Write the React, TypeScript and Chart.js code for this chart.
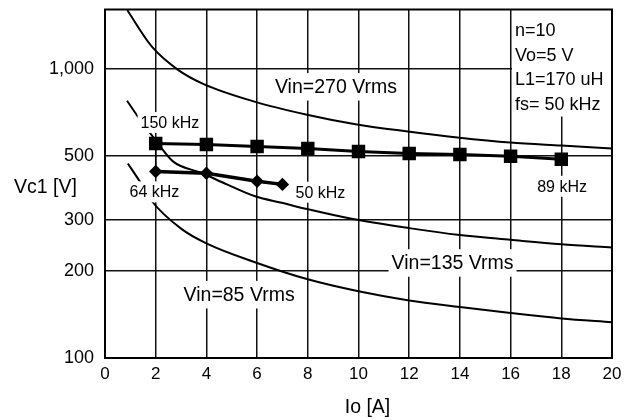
import React, { useEffect, useRef } from "react";
import { Chart, registerables } from "chart.js";

Chart.register(...registerables);

const FONT = "'Liberation Sans', Arial, Helvetica, sans-serif";

// Axis ticks
const xTickValues = [0, 2, 4, 6, 8, 10, 12, 14, 16, 18, 20];
const yTickValues = [100, 200, 300, 500, 1000];
const yTickLabels = ["100", "200", "300", "500", "1,000"];

// Vc1 limit curves for each input voltage
const vin270Io = [0.88, 1.85, 2.88, 3.87, 5.9, 7.97, 9.94, 11.95, 13.9, 15.98, 18, 20];
const vin270Vc = [1590, 1190, 990, 886, 769, 693, 641, 606, 578, 555, 542, 530];

const vin135Io = [0.87, 1.35, 2, 2.68, 3.83, 4.81, 5.92, 7.02, 7.97, 9.78, 12, 14, 16, 18, 20];
const vin135Vc = [774, 672, 565, 478, 435, 398, 362, 343, 327, 302, 281, 266, 256, 247, 241];

const vin85Io = [0.9, 1.35, 1.85, 3, 4, 6, 8, 10, 12, 14, 16, 18, 20];
const vin85Vc = [470, 410, 348, 280, 249, 213, 187, 170, 158, 150, 143, 137, 133];

// Measured Vc1 (squares: 150 kHz -> 89 kHz, diamonds: 64 kHz -> 50 kHz)
const squareIo = [2, 4, 6, 8, 10, 12, 14, 16, 18];
const squareVc = [551, 547, 538, 530, 517, 509, 505, 498, 486];

const diamondIo = [2, 4, 6, 7];
const diamondVc = [441, 435, 408, 398];

// In-plot labels, anchored in data units
const labelTexts = ["150 kHz", "64 kHz", "50 kHz", "89 kHz", "Vin=270 Vrms", "Vin=135 Vrms", "Vin=85 Vrms"];
const labelIo = [2.56, 1.95, 8.5, 18.03, 9.11, 13.71, 5.29];
const labelVc = [651, 375, 374, 392, 865, 213, 165.5];
const labelSizes = [16, 16, 16, 16, 19.5, 19.5, 19.5];

const infoLines = ["n=10", "Vo=5 V", "L1=170 uH", "fs= 50 kHz"];

const xTitle = "Io [A]";
const yTitle = "Vc1 [V]";

const toPoints = (xs: number[], ys: number[]) => xs.map((x, i) => ({ x, y: ys[i] }));

const overlayPlugin = {
  id: "overlay",
  afterDatasetsDraw(chart: any) {
    const { ctx, chartArea, scales } = chart;
    const xs = scales.x;
    const ys = scales.y;
    ctx.save();
    ctx.textBaseline = "middle";

    // labels with white backing
    labelTexts.forEach((t, i) => {
      const size = labelSizes[i];
      ctx.font = `${size}px ${FONT}`;
      const cx = xs.getPixelForValue(labelIo[i]);
      const cy = ys.getPixelForValue(labelVc[i]);
      const w = ctx.measureText(t).width;
      const padX = 3;
      const padY = size > 17 ? 4 : 2.5;
      ctx.fillStyle = "#fff";
      ctx.fillRect(cx - w / 2 - padX, cy - size / 2 - padY, w + padX * 2, size + padY * 2);
      ctx.fillStyle = "#000";
      ctx.textAlign = "center";
      ctx.fillText(t, cx, cy + 1);
    });

    // parameter box in the upper right corner
    const boxW = 100;
    const boxH = 107;
    const bx = chartArea.right - boxW;
    const by = chartArea.top;
    ctx.fillStyle = "#fff";
    ctx.fillRect(bx, by, boxW, boxH);
    ctx.fillStyle = "#000";
    ctx.textAlign = "left";
    ctx.font = `18px ${FONT}`;
    infoLines.forEach((line, i) => {
      ctx.fillText(line, bx + 3, by + 22 + i * 24.5);
    });

    // plot frame
    ctx.strokeStyle = "#000";
    ctx.lineWidth = 2;
    ctx.strokeRect(chartArea.left, chartArea.top, chartArea.right - chartArea.left, chartArea.bottom - chartArea.top);

    // axis titles
    ctx.font = `19.5px ${FONT}`;
    ctx.textAlign = "left";
    ctx.fillText(yTitle, 14, ys.getPixelForValue(388));
    ctx.textAlign = "center";
    ctx.fillText(xTitle, (chartArea.left + chartArea.right) / 2 + 9, chartArea.bottom + 50);

    ctx.restore();
  },
};

export default function App() {
  const canvasRef = useRef<HTMLCanvasElement | null>(null);

  useEffect(() => {
    const canvas = canvasRef.current;
    if (!canvas) return;
    const curve = (xs: number[], ys: number[]) => ({
      data: toPoints(xs, ys),
      showLine: true,
      borderColor: "#000",
      borderWidth: 2,
      pointRadius: 0,
      cubicInterpolationMode: "monotone" as const,
      fill: false,
    });

    const chart = new Chart(canvas, {
      type: "scatter",
      data: {
        datasets: [
          curve(vin270Io, vin270Vc),
          curve(vin135Io, vin135Vc),
          curve(vin85Io, vin85Vc),
          {
            // drop line joining the two series at 2 A
            data: toPoints([squareIo[0], diamondIo[0]], [squareVc[0], diamondVc[0]]),
            showLine: true,
            borderColor: "#000",
            borderWidth: 1.5,
            pointRadius: 0,
          },
          {
            data: toPoints(diamondIo, diamondVc),
            showLine: true,
            borderColor: "#000",
            borderWidth: 3.5,
            pointStyle: "rectRot",
            pointRadius: 6.7,
            pointBackgroundColor: "#000",
            pointBorderColor: "#000",
            pointBorderWidth: 0,
          },
          {
            data: toPoints(squareIo, squareVc),
            showLine: true,
            borderColor: "#000",
            borderWidth: 3,
            pointStyle: "rect",
            pointRadius: 9.5,
            pointBackgroundColor: "#000",
            pointBorderColor: "#000",
            pointBorderWidth: 0,
          },
        ],
      },
      options: {
        responsive: false,
        animation: false,
        events: [],
        layout: { padding: { top: 7, right: 28, left: 0, bottom: 0 } },
        plugins: { legend: { display: false }, tooltip: { enabled: false } },
        scales: {
          x: {
            type: "linear",
            min: 0,
            max: 20,
            afterFit: (s: any) => {
              s.height = 62;
              s.paddingLeft = 0;
              s.paddingRight = 0;
            },
            afterBuildTicks: (s: any) => {
              s.ticks = xTickValues.map((v) => ({ value: v }));
            },
            ticks: {
              color: "#000",
              font: { family: FONT, size: 17 },
              padding: 6,
              maxRotation: 0,
              autoSkip: false,
            },
            grid: { color: "#111", lineWidth: 1.5, drawTicks: false },
            border: { display: true, color: "#000", width: 2 },
          },
          y: {
            type: "logarithmic",
            min: 100,
            max: 1600,
            afterFit: (s: any) => {
              s.width = 105;
              s.paddingTop = 0;
              s.paddingBottom = 0;
            },
            afterBuildTicks: (s: any) => {
              s.ticks = yTickValues.map((v) => ({ value: v }));
            },
            ticks: {
              color: "#000",
              font: { family: FONT, size: 18 },
              padding: 11,
              autoSkip: false,
              callback: (_v: any, i: number) => yTickLabels[i],
            },
            grid: { color: "#111", lineWidth: 1.5, drawTicks: false },
            border: { display: true, color: "#000", width: 2 },
          },
        },
      },
      plugins: [overlayPlugin],
    });

    return () => chart.destroy();
  }, []);

  return (
    <div style={{ position: "fixed", left: 0, top: 0, width: 640, height: 420, background: "#fff" }}>
      <canvas ref={canvasRef} width={640} height={420} style={{ display: "block" }} />
    </div>
  );
}
